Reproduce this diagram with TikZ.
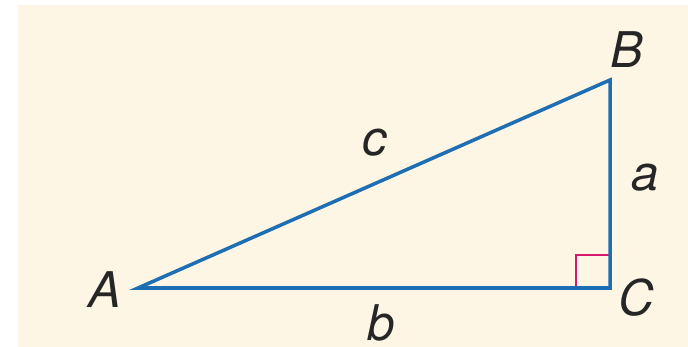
\documentclass[tikz,border=0pt]{standalone}
\usepackage{fontspec}
\setmainfont{TeX Gyre Heros}
\definecolor{cream}{RGB}{254,246,228}
\definecolor{tblue}{RGB}{30,110,180}
\definecolor{tmag}{RGB}{214,24,110}
\begin{document}
\begin{tikzpicture}[x=0.02cm,y=-0.02cm,
  side/.style={draw=tblue,line width=2pt,line join=miter},
  lbl/.style={font=\fontsize{28}{33}\selectfont\itshape,text=black!85,inner sep=0pt}]
\useasboundingbox (0,0) rectangle (688,347);
\fill[white] (0,0) rectangle (688,347);
\fill[cream] (18,5) rectangle (688,347);
\coordinate (A) at (138,288);
\coordinate (C) at (610,288);
\coordinate (B) at (610,80);
\coordinate (R1) at (576,288);
\coordinate (R2) at (576,255);
\coordinate (R3) at (610,255);
\draw[tmag,line width=1.3pt] (R1) -- (R2) -- (R3);
\draw[side] (A) -- (B) -- (C) -- cycle;
\node[lbl] (lA) at (105,290) {A};
\node[lbl] (lB) at (627,50) {B};
\node[lbl] (lC) at (636,298) {C};
\node[lbl] (lc) at (375,143) {c};
\node[lbl] (la) at (645,178) {a};
\node[lbl,text depth=0pt] (lb) at (381,323) {b};
\end{tikzpicture}
\end{document}
